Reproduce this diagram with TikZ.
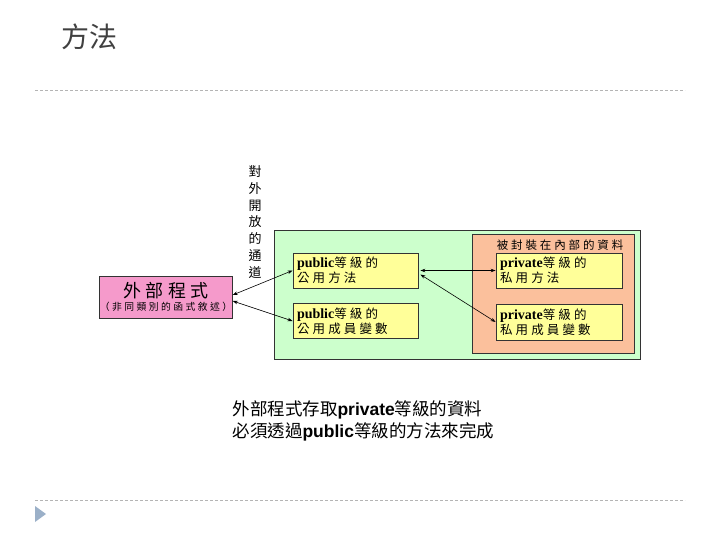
\documentclass[tikz,border=0pt]{standalone}
\usepackage{fontspec}
\setmainfont{Liberation Serif}
\newfontfamily\cjk{Noto Sans CJK TC}
\newfontfamily\cjkwide[LetterSpace=25]{Noto Sans CJK TC}
\newfontfamily\capsans{Liberation Sans}
\newcommand\kw[1]{{\fontsize{14}{15}\rmfamily\bfseries #1}}
\usetikzlibrary{arrows.meta,positioning}
\definecolor{titlegray}{HTML}{404040}
\definecolor{linegray}{HTML}{B4B4B4}
\definecolor{bulletblue}{HTML}{9BB0C8}
\definecolor{pinkfill}{HTML}{F59ACB}
\definecolor{greenfill}{HTML}{CCFFCC}
\definecolor{orangefill}{HTML}{FBC09C}
\definecolor{yellowfill}{HTML}{FFFF99}

\begin{document}
\begin{tikzpicture}[
    x=1pt, y=-1pt,
    sepline/.style={linegray, line width=0.8pt, dash pattern=on 3pt off 2pt},
    areabox/.style={draw=black!80, line width=1pt, fill=#1, inner sep=0pt},
    itembox/.style={
      draw=black!80, line width=0.8pt, fill=yellowfill,
      text width=#1, align=left, inner sep=4pt,
      font=\fontsize{12.5}{15}\cjkwide
    },
    dblarr/.style={{Stealth[length=5pt,width=3.5pt]}-{Stealth[length=5pt,width=3.5pt]}, line width=0.6pt},
  ]
  \useasboundingbox (0,0) rectangle (720,540);

  % =================== Title and rules ===================
  \node[font=\fontsize{28}{32}\cjk, titlegray] (title) at (89,37) {方法};
  \draw[sepline] (35,90) -- (685,90);
  \draw[sepline] (35,500) -- (685,500);
  \fill[bulletblue] (35,506) -- (46,514) -- (35,522) -- cycle;

  % =================== Outer program ===================
  \node[areabox=pinkfill, minimum width=132, minimum height=42, align=center] (outer) at (166,297)
    {{\fontsize{18}{20}\cjkwide 外部程式}\\[1pt]{\fontsize{9.8}{11}\cjkwide（非同類別的函式敘述）}};

  % Vertical label
  \node[font=\fontsize{13}{16.7}\cjk, align=center] (channel) at (255,222)
    {對\\外\\開\\放\\的\\通\\道};

  % =================== Class area ===================
  \node[areabox=greenfill, minimum width=366, minimum height=128] (pubarea) at (457,295) {};
  \node[areabox=orangefill, line width=0.6pt, minimum width=162, minimum height=119] (privarea) at (553,293.5) {};
  \node[font=\fontsize{11.5}{14}\cjkwide] (privlabel) at (560,245) {被封裝在內部的資料};

  \node[itembox=117pt, minimum height=35] (pubmeth) at (355.5,270.5)
    {\kw{public}等級的\\公用方法};
  \node[itembox=117pt, minimum height=34] (pubvar) at (355.5,321)
    {\kw{public}等級的\\公用成員變數};
  \node[itembox=118pt, minimum height=35] (privmeth) at (559,270.5)
    {\kw{private}等級的\\私用方法};
  \node[itembox=118pt, minimum height=36] (privvar) at (559,322)
    {\kw{private}等級的\\私用成員變數};

  % =================== Arrows ===================
  \draw[dblarr] ([yshift=2pt]outer.east) -- (pubmeth.west);
  \draw[dblarr] ([yshift=-4pt]outer.east) -- (pubvar.west);
  \draw[dblarr] ([xshift=2pt]pubmeth.east) -- (privmeth.west);
  \draw[dblarr] ([xshift=2pt,yshift=-4pt]pubmeth.east) -- (privvar.west);

  % =================== Caption ===================
  \node[anchor=west, align=left, font=\fontsize{17.5}{22}\cjk] (caption) at (229,421)
    {外部程式存取{\capsans\bfseries private}等級的資料\\必須透過{\capsans\bfseries public}等級的方法來完成};

\end{tikzpicture}
\end{document}
